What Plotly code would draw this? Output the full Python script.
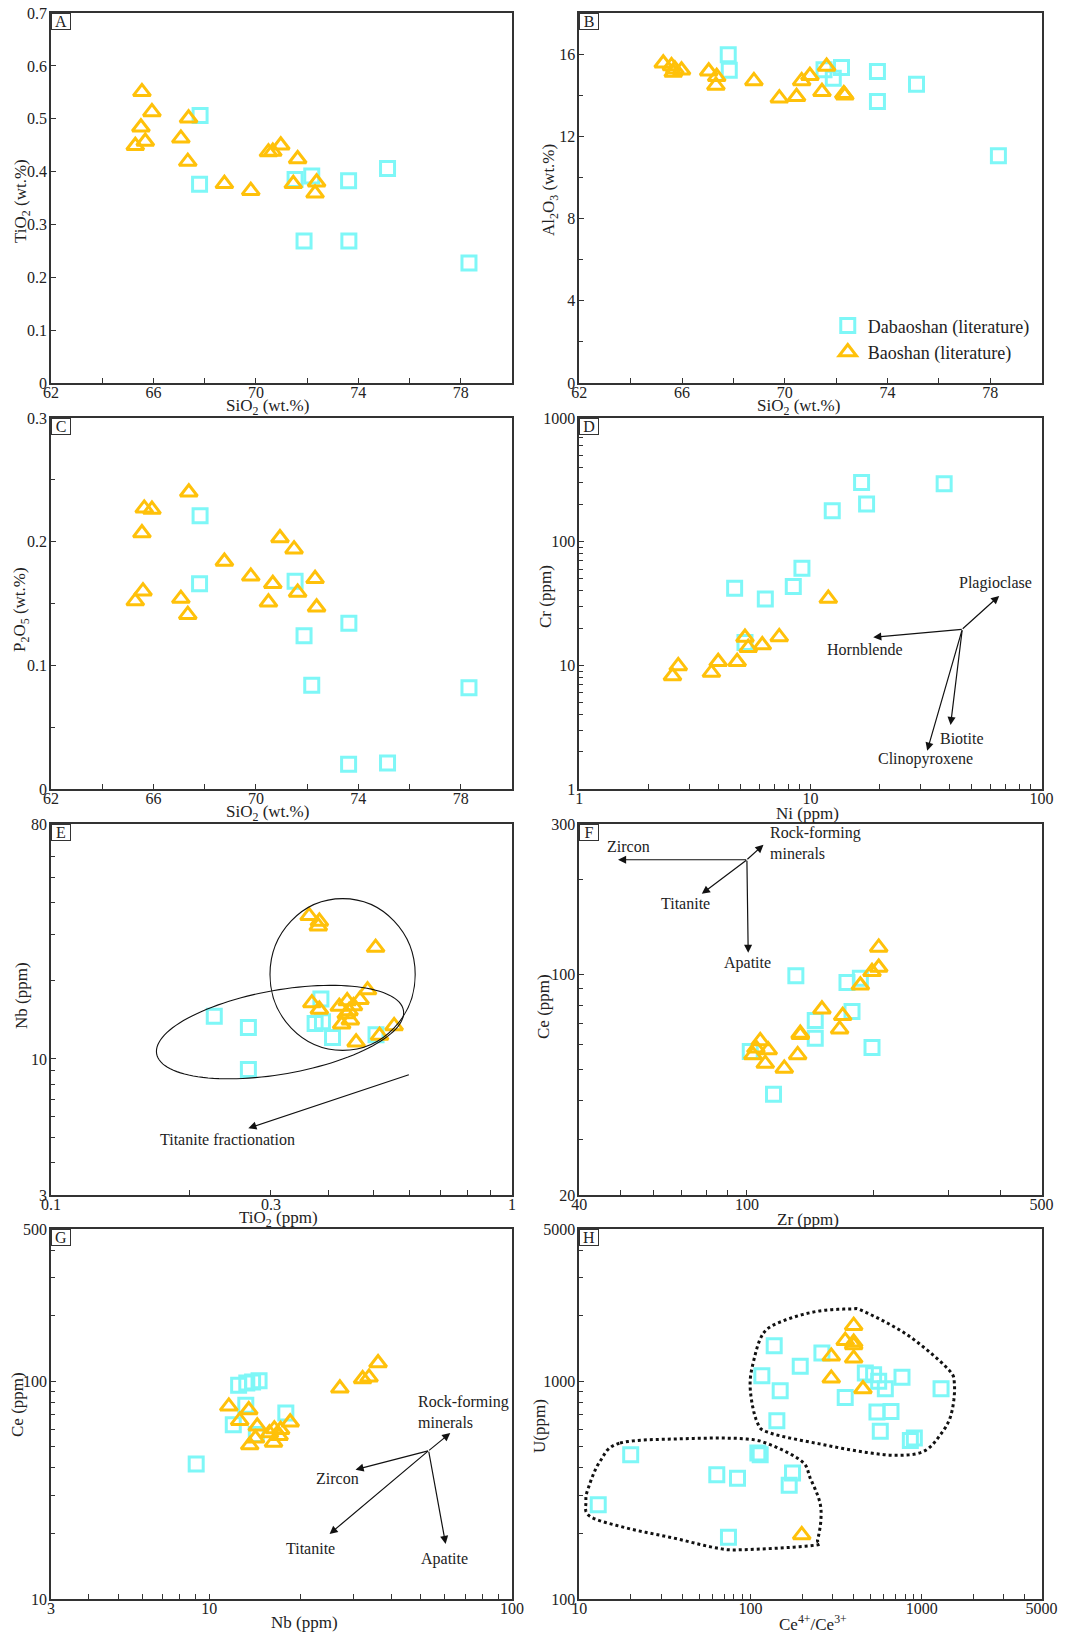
import math
import numpy as np
import plotly.graph_objects as go

# ---------------- DATA ----------------
# Panel A: SiO2 vs TiO2 (wt.%)
A_dab_SiO2 = [67.82, 67.80, 71.53, 72.18, 73.62, 75.14, 71.88, 73.63, 78.32]
A_dab_TiO2 = [0.506, 0.376, 0.385, 0.392, 0.383, 0.406, 0.269, 0.269, 0.227]
A_bao_SiO2 = [65.55, 65.94, 67.37, 65.51, 67.07, 65.68, 65.29, 67.34, 68.77, 69.80, 70.49, 70.66, 70.97, 71.63, 71.46, 72.37, 72.31]
A_bao_TiO2 = [0.551, 0.513, 0.501, 0.484, 0.463, 0.457, 0.449, 0.419, 0.377, 0.364, 0.437, 0.438, 0.450, 0.424, 0.377, 0.380, 0.359]

# Panel B: SiO2 vs Al2O3 (wt.%)
B_dab_SiO2 = [67.80, 67.84, 71.53, 72.21, 71.89, 73.61, 75.13, 73.61, 78.32]
B_dab_Al2O3 = [15.97, 15.22, 15.24, 15.35, 14.83, 15.16, 14.54, 13.70, 11.06]
B_bao_SiO2 = [65.27, 65.59, 65.72, 65.98, 67.04, 67.35, 67.32, 68.80, 69.79, 70.46, 70.66, 70.98, 71.63, 71.45, 72.30, 72.34, 65.66]
B_bao_Al2O3 = [15.56, 15.43, 15.27, 15.22, 15.17, 14.90, 14.48, 14.70, 13.86, 13.93, 14.70, 14.95, 15.40, 14.17, 14.07, 14.00, 15.11]

# Panel C: SiO2 vs P2O5 (wt.%)
C_dab_SiO2 = [67.82, 67.80, 71.53, 71.88, 73.63, 72.18, 78.32, 73.62, 75.14]
C_dab_P2O5 = [0.221, 0.166, 0.168, 0.124, 0.134, 0.084, 0.082, 0.020, 0.021]
C_bao_SiO2 = [67.38, 65.64, 65.94, 65.55, 70.94, 71.49, 68.77, 69.80, 72.31, 70.66, 71.63, 65.59, 65.29, 67.07, 70.49, 72.37, 67.34]
C_bao_P2O5 = [0.240, 0.227, 0.226, 0.207, 0.203, 0.194, 0.184, 0.172, 0.170, 0.166, 0.159, 0.160, 0.152, 0.154, 0.151, 0.147, 0.141]

# Panel D: Ni vs Cr (ppm)
D_dab_Ni = [16.65, 37.9, 17.5, 12.43, 9.19, 8.43, 4.70, 6.38, 5.21]
D_dab_Cr = [301, 294, 202, 178, 61.1, 43.4, 42.1, 34.5, 15.3]
D_bao_Ni = [11.95, 7.33, 5.21, 6.19, 5.38, 4.82, 3.99, 2.68, 3.73, 2.53]
D_bao_Cr = [34.7, 17.0, 16.8, 14.6, 13.9, 10.7, 10.7, 9.9, 8.74, 8.21]

# Panel E: TiO2 vs Nb
E_dab_TiO2 = [0.226, 0.268, 0.268, 0.385, 0.374, 0.388, 0.408, 0.507]
E_dab_Nb = [14.6, 13.2, 9.11, 17.0, 13.7, 13.9, 12.1, 12.4]
E_bao_TiO2 = [0.363, 0.382, 0.380, 0.506, 0.486, 0.468, 0.368, 0.439, 0.422, 0.453, 0.382, 0.443, 0.437, 0.446, 0.427, 0.555, 0.516, 0.459]
E_bao_Nb = [35.5, 33.8, 32.4, 26.8, 18.4, 16.9, 16.4, 16.7, 15.9, 16.0, 15.5, 15.3, 14.9, 14.1, 13.6, 13.4, 12.3, 11.6]

# Panel F: Zr vs Ce
F_dab_Zr = [130.6, 172.7, 185.8, 177.5, 145.2, 145.2, 101.8, 198.0, 115.6]
F_dab_Ce = [99.1, 94.3, 97.4, 76.3, 71.5, 62.8, 57.0, 58.7, 41.7]
F_bao_Zr = [205.4, 205.4, 198, 185.8, 150.6, 168.7, 165.9, 133.8, 133.8, 107.5, 105.0, 112.3, 103.3, 110.5, 131.9, 122.6]
F_bao_Ce = [121.9, 105.3, 102, 92.5, 77.6, 74.0, 67.1, 65.0, 64.4, 61.6, 58.4, 57.6, 55.6, 52.2, 55.6, 50.4]

# Panel G: Nb vs Ce
G_dab_Nb = [9.05, 12.5, 13.3, 13.9, 14.6, 13.2, 17.9, 12.0, 14.3]
G_dab_Ce = [41.7, 95.8, 98.1, 99.2, 100.6, 77.5, 71.5, 63.2, 56.9]
G_bao_Nb = [36.1, 33.7, 32.1, 27.0, 11.6, 13.5, 12.6, 18.5, 14.4, 16.4, 17.2, 15.8, 17.0, 14.2, 16.3, 13.6]
G_bao_Ce = [121.3, 104.2, 102.4, 92.8, 76.7, 73.8, 65.9, 64.8, 62.1, 60.3, 59.9, 57.8, 56.2, 54.7, 52.4, 50.9]

# Panel H: Ce4+/Ce3+ vs U
H_dab_ratio = [12.9, 19.96, 63.5, 83.9, 74.3, 110.3, 113.8, 175.8, 168.1, 137.4, 116.4, 195, 148.9, 142.4,
               261, 357, 467.7, 523, 560, 612, 766, 1295, 547, 660.7, 572, 857, 904]
H_dab_U = [271, 460, 372, 359, 192, 468, 460, 379, 333, 1457, 1061, 1171, 905, 659,
           1348, 843, 1091, 1072, 999, 924, 1042, 924, 722, 727, 589, 534, 549]
H_bao_ratio = [400, 357, 400, 400, 400, 296, 296, 453, 199]
H_bao_U = [1800, 1536, 1509, 1467, 1274, 1301, 1031, 921, 197]

SERIES_NAMES = ["Dabaoshan (literature)", "Baoshan (literature)"]
PANEL_LETTERS = ["A", "B", "C", "D", "E", "F", "G", "H"]
X_TITLES = ["SiO<sub>2</sub> (wt.%)", "SiO<sub>2</sub> (wt.%)", "SiO<sub>2</sub> (wt.%)", "Ni (ppm)",
            "TiO<sub>2</sub> (ppm)", "Zr (ppm)", "Nb (ppm)", "Ce<sup>4+</sup>/Ce<sup>3+</sup>"]
Y_TITLES = ["TiO<sub>2</sub> (wt.%)", "Al<sub>2</sub>O<sub>3</sub> (wt.%)", "P<sub>2</sub>O<sub>5</sub> (wt.%)",
            "Cr (ppm)", "Nb (ppm)", "Ce (ppm)", "Ce (ppm)", "U(ppm)"]

# ---------------- STYLE / LAYOUT ----------------
FONT = "Liberation Serif"
CYAN = "#7EF7F7"
GOLD = "#FFC10A"
INK = "#222222"
W, H = 1070, 1635

colL = [0.0477, 0.4785]
colR = [0.5414, 0.9734]
rows = [[0.7657, 0.9920], [0.5174, 0.7443], [0.2691, 0.4960], [0.0220, 0.2483]]

# title centre positions in page pixels
X_TITLE_POS = [(267, 407), (798, 407), (267, 813), (807, 813), (278, 1219), (808, 1219), (304, 1622), (813, 1623)]
Y_TITLE_POS = [(22, 201), (550, 190), (21, 610), (545, 597), (21, 996), (543, 1007), (17, 1405), (539, 1426)]

fig = go.Figure()

panels = [
    (A_dab_SiO2, A_dab_TiO2, A_bao_SiO2, A_bao_TiO2),
    (B_dab_SiO2, B_dab_Al2O3, B_bao_SiO2, B_bao_Al2O3),
    (C_dab_SiO2, C_dab_P2O5, C_bao_SiO2, C_bao_P2O5),
    (D_dab_Ni, D_dab_Cr, D_bao_Ni, D_bao_Cr),
    (E_dab_TiO2, E_dab_Nb, E_bao_TiO2, E_bao_Nb),
    (F_dab_Zr, F_dab_Ce, F_bao_Zr, F_bao_Ce),
    (G_dab_Nb, G_dab_Ce, G_bao_Nb, G_bao_Ce),
    (H_dab_ratio, H_dab_U, H_bao_ratio, H_bao_U),
]

for i, (dx, dy, bx, by) in enumerate(panels):
    n = i + 1
    xa = "x" if n == 1 else f"x{n}"
    ya = "y" if n == 1 else f"y{n}"
    show = (n == 2)
    fig.add_trace(go.Scatter(x=dx, y=dy, mode="markers", name=SERIES_NAMES[0], xaxis=xa, yaxis=ya,
                             showlegend=show, legendrank=1,
                             marker=dict(symbol="square-open", size=14, color=CYAN, line=dict(width=3, color=CYAN))))
    fig.add_trace(go.Scatter(x=bx, y=by, mode="markers", name=SERIES_NAMES[1], xaxis=xa, yaxis=ya,
                             showlegend=show, legendrank=2,
                             marker=dict(symbol="triangle-up-open", size=15, color=GOLD, line=dict(width=3, color=GOLD))))


def logminor(lo, hi):
    vals = []
    for e in range(-2, 5):
        for m in range(2, 10):
            v = round(m * 10 ** e, 6)
            if lo < v < hi and v not in vals:
                vals.append(v)
    return vals


base_axis = dict(showline=True, mirror=True, linecolor="#333333", linewidth=1.5,
                 ticks="inside", ticklen=5, tickwidth=1.2, tickcolor="#333333",
                 showgrid=False, zeroline=False, automargin=False,
                 tickfont=dict(family=FONT, size=16, color=INK))

axes_spec = [
    (colL, rows[0], "linear", [62, 80], [62, 66, 70, 74, 78], [64, 68, 72, 76],
     "linear", [0, 0.7], [0, 0.1, 0.2, 0.3, 0.4, 0.5, 0.6, 0.7], []),
    (colR, rows[0], "linear", [62, 80], [62, 66, 70, 74, 78], [64, 68, 72, 76],
     "linear", [0, 18], [0, 4, 8, 12, 16], [2, 6, 10, 14]),
    (colL, rows[1], "linear", [62, 80], [62, 66, 70, 74, 78], [64, 68, 72, 76],
     "linear", [0, 0.3], [0, 0.1, 0.2, 0.3], [0.05, 0.15, 0.25]),
    (colR, rows[1], "log", [0, 2], [1, 10, 100], logminor(1, 100),
     "log", [0, 3], [1, 10, 100, 1000], logminor(1, 1000)),
    (colL, rows[2], "log", [-1, 0], [0.1, 0.3, 1], [v for v in logminor(0.1, 1) if v != 0.3],
     "log", [math.log10(3), math.log10(80)], [3, 10, 80], logminor(3.5, 75)),
    (colR, rows[2], "log", [math.log10(40), math.log10(500)], [40, 100, 500], logminor(45, 450),
     "log", [math.log10(20), math.log10(300)], [20, 100, 300], logminor(25, 250)),
    (colL, rows[3], "log", [math.log10(3), 2], [3, 10, 100], logminor(3.5, 95),
     "log", [1, math.log10(500)], [10, 100, 500], logminor(15, 450)),
    (colR, rows[3], "log", [1, math.log10(5000)], [10, 100, 1000, 5000], logminor(15, 4500),
     "log", [2, math.log10(5000)], [100, 1000, 5000], logminor(150, 4500)),
]

layout_axes = {}
for i, (xd, yd, xt, xr, xtv, xmin, yt, yr, ytv, ymin) in enumerate(axes_spec):
    n = i + 1
    xk = "xaxis" if n == 1 else f"xaxis{n}"
    yk = "yaxis" if n == 1 else f"yaxis{n}"
    ya_id = "y" if n == 1 else f"y{n}"
    xa_id = "x" if n == 1 else f"x{n}"
    layout_axes[xk] = dict(base_axis, domain=xd, type=xt, range=xr, anchor=ya_id,
                           tickmode="array", tickvals=xtv, ticktext=[str(v) for v in xtv],
                           ticklabelstandoff=-6,
                           minor=dict(tickvals=xmin, ticks="inside", ticklen=5, tickcolor="#333333", tickwidth=1.2))
    layout_axes[yk] = dict(base_axis, domain=yd, type=yt, range=yr, anchor=xa_id,
                           tickmode="array", tickvals=ytv, ticktext=[str(v) for v in ytv],
                           ticklabelstandoff=-1,
                           minor=dict(tickvals=ymin, ticks="inside", ticklen=4, tickcolor="#333333", tickwidth=1.2))

fig.update_layout(**layout_axes)

annotations = []
shapes = []

# Axis titles as annotations (page pixel positions)
for i in range(8):
    xx, yy = X_TITLE_POS[i]
    annotations.append(dict(text=X_TITLES[i], xref="paper", yref="paper", x=xx / W, y=1 - yy / H,
                            xanchor="center", yanchor="middle", showarrow=False,
                            font=dict(family=FONT, size=17, color=INK)))
    xx, yy = Y_TITLE_POS[i]
    annotations.append(dict(text=Y_TITLES[i], xref="paper", yref="paper", x=xx / W, y=1 - yy / H,
                            xanchor="center", yanchor="middle", showarrow=False, textangle=-90,
                            font=dict(family=FONT, size=17, color=INK)))

# Panel letter boxes
for i, letter in enumerate(PANEL_LETTERS):
    n = i + 1
    xr = "x domain" if n == 1 else f"x{n} domain"
    yr = "y domain" if n == 1 else f"y{n} domain"
    annotations.append(dict(text=letter, xref=xr, yref=yr, x=0, y=1, xanchor="left", yanchor="top",
                            showarrow=False, bordercolor="#333333", borderwidth=1, borderpad=0,
                            width=18, height=15, bgcolor="white",
                            font=dict(family=FONT, size=16, color=INK)))


def arrow(n, hx, hy, ax, ay):
    annotations.append(dict(text=" ", xref=f"x{n} domain", yref=f"y{n} domain", x=hx, y=hy,
                            ax=ax, ay=ay, axref="pixel", ayref="pixel", showarrow=True,
                            arrowhead=2, arrowsize=1.35, arrowwidth=1.2, arrowcolor="#111111",
                            standoff=0, startstandoff=0, borderpad=0, font=dict(size=1)))


def label(n, txt, x, y, xanchor="center", align="center"):
    annotations.append(dict(text=txt, xref=f"x{n} domain", yref=f"y{n} domain", x=x, y=y,
                            xanchor=xanchor, yanchor="middle", align=align, showarrow=False,
                            font=dict(family=FONT, size=16, color=INK)))


# Panel D vectors
arrow(4, 0.9084, 0.5207, -37, 33.3)
arrow(4, 0.6359, 0.4092, 89, -8)
arrow(4, 0.8032, 0.1727, 11.7, -95.7)
arrow(4, 0.7527, 0.1034, 35, -121.3)
label(4, "Plagioclase", 0.9012, 0.5549)
label(4, "Hornblende", 0.6179, 0.375)
label(4, "Biotite", 0.827, 0.1367)
label(4, "Clinopyroxene", 0.7498, 0.080)

# Panel E vector
arrow(5, 0.428, 0.180, 161, -53.7)
label(5, "Titanite fractionation", 0.3834, 0.151)

# Panel F vectors
arrow(6, 0.0838, 0.9037, 128.7, 0)
arrow(6, 0.2651, 0.812, 45, -34)
arrow(6, 0.3654, 0.6528, -1.3, -93)
arrow(6, 0.3985, 0.9442, -16.6, 15)
label(6, "Zircon", 0.1067, 0.9397)
label(6, "Titanite", 0.2304, 0.787)
label(6, "Apatite", 0.3632, 0.625)
label(6, "Rock-forming<br>minerals", 0.4087, 0.9488, xanchor="left", align="left")

# Panel G vectors
arrow(7, 0.8661, 0.4486, -21.7, 17.7)
arrow(7, 0.6606, 0.3495, 73, -19)
arrow(7, 0.6042, 0.1757, 99, -83.3)
arrow(7, 0.856, 0.1486, -17, -93.3)
label(7, "Rock-forming<br>minerals", 0.7923, 0.5045, xanchor="left", align="left")
label(7, "Zircon", 0.6223, 0.3252)
label(7, "Titanite", 0.5622, 0.1378)
label(7, "Apatite", 0.8538, 0.109)

# Panel E outlines: circle and tilted ellipse (domain coordinates)
shapes.append(dict(type="circle", xref="x5 domain", yref="y5 domain",
                   x0=0.475, x1=0.790, y0=0.390, y1=0.799, line=dict(color="#111111", width=1.1)))

pw = (colL[1] - colL[0]) * W
ph = (rows[2][1] - rows[2][0]) * H
cx, cy, a_ax, b_ax, th = 0.4968, 0.4392, 125.3, 42.0, math.radians(10)
pts = []
for t in np.linspace(0, 2 * math.pi, 121):
    dxp = a_ax * math.cos(t) * math.cos(th) - b_ax * math.sin(t) * math.sin(th)
    dyp = a_ax * math.cos(t) * math.sin(th) + b_ax * math.sin(t) * math.cos(th)
    pts.append((cx + dxp / pw, cy + dyp / ph))
path = "M " + " L ".join(f"{x:.5f},{y:.5f}" for x, y in pts) + " Z"
shapes.append(dict(type="path", xref="x5 domain", yref="y5 domain", path=path,
                   line=dict(color="#111111", width=1.1)))


def catmull_closed(verts, n_seg=12):
    P = np.array(verts)
    N = len(P)
    out = []
    for i in range(N):
        p0, p1, p2, p3 = P[(i - 1) % N], P[i], P[(i + 1) % N], P[(i + 2) % N]
        for t in np.linspace(0, 1, n_seg, endpoint=False):
            t2, t3 = t * t, t * t * t
            pt = 0.5 * ((2 * p1) + (-p0 + p2) * t + (2 * p0 - 5 * p1 + 4 * p2 - p3) * t2 + (-p0 + 3 * p1 - 3 * p2 + p3) * t3)
            out.append(pt)
    return out


H_upper = [(0.3986, 0.7189), (0.4419, 0.7523), (0.5141, 0.7775), (0.5863, 0.7838), (0.6152, 0.7775),
           (0.7090, 0.7144), (0.7957, 0.6243), (0.8116, 0.5793), (0.8043, 0.4982), (0.7812, 0.4441),
           (0.7451, 0.3991), (0.6874, 0.3883), (0.6152, 0.3973), (0.5285, 0.4171), (0.4130, 0.4486),
           (0.3841, 0.4802), (0.3697, 0.5703), (0.3769, 0.6423)]
H_lower = [(0.0881, 0.4216), (0.2253, 0.4333), (0.3552, 0.4333), (0.4130, 0.4171), (0.4816, 0.3721),
           (0.4996, 0.3270), (0.5199, 0.2640), (0.5227, 0.2144), (0.5155, 0.1604), (0.5069, 0.1450),
           (0.3552, 0.1333), (0.2975, 0.1378), (0.2036, 0.1649), (0.1025, 0.1919), (0.0231, 0.2234),
           (0.0144, 0.2640), (0.0195, 0.3000), (0.0448, 0.3721)]
for poly in (H_upper, H_lower):
    sp = catmull_closed(poly)
    path = "M " + " L ".join(f"{p[0]:.5f},{p[1]:.5f}" for p in sp) + " Z"
    shapes.append(dict(type="path", xref="x8 domain", yref="y8 domain", path=path,
                       line=dict(color="#111111", width=3, dash="dot")))

fig.update_layout(
    width=W, height=H,
    margin=dict(l=0, r=0, t=0, b=0, autoexpand=False),
    paper_bgcolor="white", plot_bgcolor="white",
    font=dict(family=FONT, size=16, color=INK),
    annotations=annotations, shapes=shapes,
    showlegend=True,
    legend=dict(x=0.7736, y=0.812, xanchor="left", yanchor="top", bgcolor="rgba(0,0,0,0)",
                font=dict(family=FONT, size=18, color=INK), tracegroupgap=0, itemwidth=30),
)

fig.write_html("out.html")
